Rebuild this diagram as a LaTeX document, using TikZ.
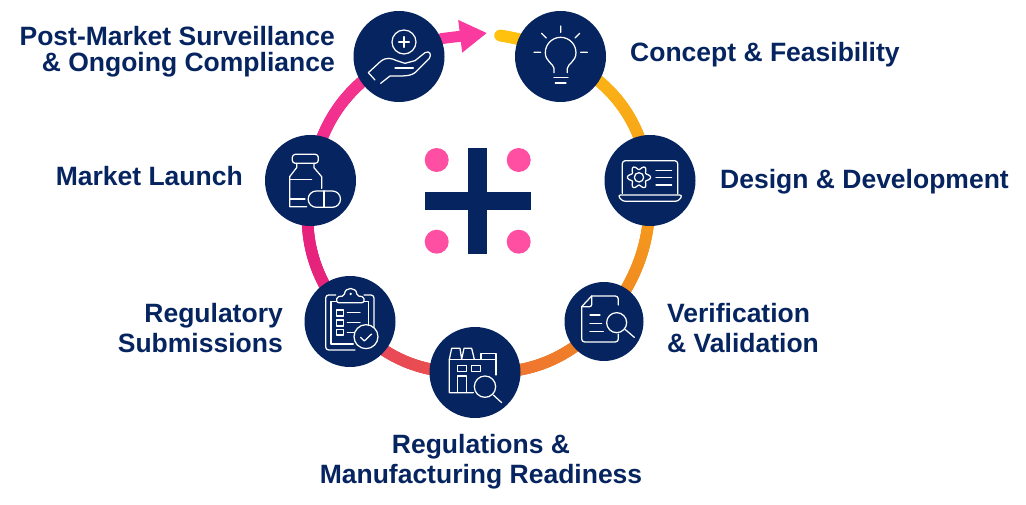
\documentclass[tikz,border=0pt]{standalone}
\usepackage{fontspec}
\setmainfont{Liberation Sans}
\usetikzlibrary{arrows.meta,backgrounds,decorations.markings}
\definecolor{navy}{HTML}{06245F}
\definecolor{dotpink}{HTML}{FF4FA3}
\definecolor{cA}{HTML}{FFC20E}
\definecolor{cB}{HTML}{FDB913}
\definecolor{cC}{HTML}{F6A01A}
\definecolor{cD}{HTML}{F08523}
\definecolor{cE}{HTML}{EE6E36}
\definecolor{cF}{HTML}{EA5147}
\definecolor{cG}{HTML}{E8455F}
\definecolor{cH}{HTML}{E5267A}
\definecolor{cI}{HTML}{E8207F}
\definecolor{cJ}{HTML}{F02B8C}
\definecolor{cK}{HTML}{F5368F}
\definecolor{cL}{HTML}{FA3A9E}
\tikzset{
  stage/.style={circle,fill=navy,inner sep=0pt,minimum size=#1},
  lbl/.style={font=\fontsize{26.5}{26}\selectfont\bfseries,text=navy,inner sep=0pt},
  icon/.style={draw=white,line width=1.25pt,line join=round,line cap=round},
  ringlink/.style n args={2}{draw=#1,line width=11.5pt,line cap=round,postaction={decorate},
    decoration={markings,mark=between positions 0 and 1 step 1.5pt with {
      \pgfmathsetmacro\gradp{min(100,100*\pgfkeysvalueof{/pgf/decoration/mark info/distance from start}/\pgfdecoratedpathlength)}
      \draw[line width=11.5pt,line cap=butt,color=#2!\gradp!#1] (-1.3pt,0)--(1.3pt,0);}}},
}
\begin{document}
\begin{tikzpicture}[x=1pt,y=-1pt]
\useasboundingbox (0,0) rectangle (1026,505);
% stage circles
\node[stage=91pt] (concept) at (560.5,56.5) {};
\node[stage=91pt] (design) at (650,180.5) {};
\node[stage=79pt] (verif) at (604,321.5) {};
\node[stage=91pt] (regs) at (475,372.5) {};
\node[stage=91pt] (subm) at (350,321.5) {};
\node[stage=91pt] (launch) at (310.5,180.5) {};
\node[stage=91pt] (post) at (399,56.5) {};
\coordinate (yellowend) at (500,35.5);
\coordinate (tip) at (487,33);
% ring
\begin{scope}[on background layer]
\path[ringlink={cA}{cB}] (yellowend) to[bend left=10] (concept.center);
\path[ringlink={cB}{cC}] (concept.center) to[bend left=28] (design.center);
\path[ringlink={cC}{cD}] (design.center) to[bend left=20] (verif.center);
\path[ringlink={cD}{cE}] (verif.center) to[bend left=24] (regs.center);
\path[ringlink={cF}{cG}] (regs.center) to[bend left=24] (subm.center);
\path[ringlink={cH}{cI}] (subm.center) to[bend left=25] (launch.center);
\path[ringlink={cJ}{cK}] (launch.center) to[bend left=26] (post.center);
\draw[cL,line width=11pt,line cap=round,-{Triangle[length=27pt,width=31pt]}] (post.23) -- (tip);
\end{scope}
% labels
\node[lbl,anchor=east,align=right] (tpost) at (335,52) {Post-Market Surveillance\\\& Ongoing Compliance};
\node[lbl,anchor=west] (tconcept) at (630,54.5) {Concept \& Feasibility};
\node[lbl,anchor=west] (tdesign) at (720,182) {Design \& Development};
\node[lbl,anchor=west,align=left] (tverif) at (667,328) {Verification\\[4pt]\& Validation};
\node[lbl,anchor=east,align=right] (tsubm) at (283,328) {Regulatory\\[4pt]Submissions};
\node[lbl,anchor=east] (tlaunch) at (243,176.5) {Market Launch};
\node[lbl,align=center] (tregs) at (481,461.5) {Regulations \&\\[4pt]Manufacturing Readiness};
% centre logo
\fill[navy] (468.3,148.3) rectangle (487,253.7);
\fill[navy] (425,191.7) rectangle (530.7,210);
\foreach \p in {(436.7,160),(518.7,160),(436.7,241.7),(518.7,241.7)} \fill[dotpink] \p circle (12);
% hand icon and lightbulb
\begin{scope}[shift={(350,0)},scale=0.3333]
\draw[icon] (162,126) circle (36);
\draw[icon] (146,126)--(178,126) (162,110)--(162,142);
\draw[icon] (75,240)--(55,218)--(92,184) .. controls (110,170) and (125,175) .. (140,182) -- (165,190) -- (195,182) -- (225,158) .. controls (240,150) and (245,165) .. (238,175) -- (195,218) .. controls (185,226) and (170,228) .. (150,228) -- (120,228) -- (92,250);
\draw[icon] (135,204)--(190,204);
\draw[icon] (612,218)--(612,205) .. controls (610,190) and (586,185) .. (586,158) arc[start angle=180,end angle=360,radius=46] .. controls (678,185) and (654,190) .. (652,205) -- (652,218);
\draw[icon] (612,233)--(654,233) (616,249)--(648,249);
\draw[icon] (632,78)--(632,97) (575,100)--(589,114) (689,100)--(675,114) (552,157)--(572,157) (692,157)--(712,157);
\end{scope}
% laptop icon
\begin{scope}[shift={(590,125)},scale=0.3333]
\draw[icon,rounded corners=3pt] (97,205)--(97,107)--(263,107)--(263,207);
\draw[icon,rounded corners=3pt] (83,210)--(278,210)--(265,229)--(97,229)--cycle;
\draw[icon] plot[smooth cycle,samples=49,domain=0:352.5] ({147+(29+6*cos(6*\x))*cos(\x)},{157+(29+6*cos(6*\x))*sin(\x)});
\draw[icon] (147,157) circle (14);
\draw[icon] (198,137)--(245,137) (198,158)--(245,158) (198,180)--(245,180);
\end{scope}
% document icon
\begin{scope}[shift={(550,270)},scale=0.3333]
\draw[icon,rounded corners=3pt] (205,105)--(205,78)--(125,78);
\draw[icon] (125,78)--(95,110);
\draw[icon,rounded corners=3pt] (95,110)--(95,216)--(205,216)--(205,192);
\draw[icon,rounded corners=2pt] (125,78)--(125,110)--(95,110);
\draw[icon] (120,135)--(150,135) (120,160)--(155,160) (120,185)--(160,185);
\draw[icon] (200,158) circle (30);
\draw[icon] (225,178)--(253,202);
\end{scope}
% factory icon
\begin{scope}[shift={(420,320)},scale=0.3333]
\draw[icon] (160,218)--(88,218)--(88,118)--(95,85)--(120,85)--(125,118)--(132,85)--(155,85)--(163,118);
\draw[icon] (88,118)--(163,118)--(228,118);
\draw[icon] (183,118)--(183,100)--(228,100)--(228,165);
\draw[icon] (113,137) rectangle (140,155);
\draw[icon] (155,137) rectangle (182,155);
\draw[icon] (113,218)--(113,168)--(140,168)--(140,218);
\draw[icon] (195,200) circle (32);
\draw[icon] (220,225)--(245,248);
\end{scope}
% clipboard icon
\begin{scope}[shift={(295,270)},scale=0.3333]
\draw[icon,rounded corners=3pt] (122,75)--(92,75)--(92,240)--(180,240);
\draw[icon,rounded corners=3pt] (237,172)--(237,75)--(207,75);
\draw[icon] (125,95)--(108,95)--(108,222)--(175,222);
\draw[icon] (220,165)--(220,95)--(207,95);
\draw[icon,rounded corners=2pt] (125,98)--(125,80)--(148,78) .. controls (150,50) and (184,50) .. (186,78) -- (207,80)--(207,98)--cycle;
\fill[white] (167,72) circle (4);
\draw[icon] (125,120) rectangle (145,138);
\draw[icon] (125,150) rectangle (145,168);
\draw[icon] (125,178) rectangle (145,195);
\draw[icon] (157,128)--(195,128) (157,157)--(195,157) (157,187)--(178,187);
\draw[icon] (213,200) circle (36);
\draw[icon] (197,202)--(208,213)--(230,192);
\end{scope}
% vial icon
\begin{scope}[shift={(255,125)},scale=0.3333]
\draw[icon,rounded corners=3pt] (112,88) rectangle (190,115);
\draw[icon] (125,115)--(125,128)--(104,155)--(104,245)--(155,245);
\draw[icon] (177,115)--(177,128)--(200,155)--(200,190);
\draw[icon] (170,163)--(104,163);
\draw[icon] (104,222)--(150,222);
\draw[icon] (184,198) arc[start angle=-90,end angle=-270,radius=24.5] -- (232,247) arc[start angle=90,end angle=-90,radius=24.5] -- cycle;
\draw[icon] (207,198)--(207,247);
\end{scope}
\end{tikzpicture}
\end{document}
